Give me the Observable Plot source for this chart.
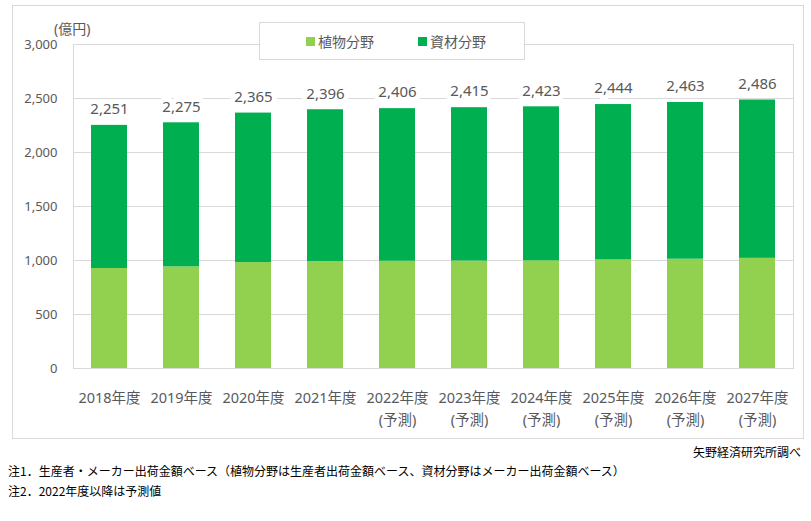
<!DOCTYPE html>
<html>
<head>
<meta charset="utf-8">
<script src="https://cdn.jsdelivr.net/npm/d3@7"></script>
<script src="https://cdn.jsdelivr.net/npm/@observablehq/plot@0.6"></script>
<style>
  html, body { margin: 0; padding: 0; background: #fff; }
  #wrap { position: relative; width: 811px; height: 521px; font-family: "Noto Sans", "Noto Sans CJK JP", sans-serif; overflow: hidden; }
  #chart { position: absolute; left: 0; top: 0; }
  #border { position: absolute; left: 12px; top: 5px; width: 790px; height: 432px; border: 1px solid #d9d9d9; pointer-events: none; }
  #unit { position: absolute; left: 54px; top: 18px; font-size: 14px; color: #595959; }
  #legend { position: absolute; left: 259px; top: 22px; width: 264px; height: 36px; border: 1px solid #d9d9d9; background: #fff; font-size: 14px; color: #595959; }
  .item { position: absolute; top: 8px; display: flex; align-items: center; }
  .sw { width: 9px; height: 9px; margin-right: 3px; }
  .note { position: absolute; font-size: 12px; color: #000; font-family: "Noto Sans CJK JP", sans-serif; white-space: nowrap; }
</style>
</head>
<body>
<div id="wrap">
  <div id="chart"></div>
  <div id="border"></div>
  <div id="unit">(億円)</div>
  <div id="legend"></div>
  <div class="note" id="src" style="right:10px; top:443px;">矢野経済研究所調べ</div>
  <div class="note" id="n1" style="left:8px; top:462px;">注1．生産者・メーカー出荷金額ベース（植物分野は生産者出荷金額ベース、資材分野はメーカー出荷金額ベース）</div>
  <div class="note" id="n2" style="left:8px; top:482px;">注2．2022年度以降は予測値</div>
</div>
<script>
// ---- data ----
const years = ["2018年度", "2019年度", "2020年度", "2021年度", "2022年度\n(予測)", "2023年度\n(予測)", "2024年度\n(予測)", "2025年度\n(予測)", "2026年度\n(予測)", "2027年度\n(予測)"];
const seriesNames = ["植物分野", "資材分野"];
const seriesColors = ["#92d050", "#00b050"];
const plantValues = [926, 941, 981, 991, 993, 995, 997, 1005, 1012, 1020];
const materialValues = [1325, 1334, 1384, 1405, 1413, 1420, 1426, 1439, 1451, 1466];
const totalValues = [2251, 2275, 2365, 2396, 2406, 2415, 2423, 2444, 2463, 2486];
const yTicks = [0, 500, 1000, 1500, 2000, 2500, 3000];

// ---- build tables ----
const rows = [];
years.forEach((y, i) => {
  rows.push({year: y, series: seriesNames[0], value: plantValues[i]});
  rows.push({year: y, series: seriesNames[1], value: materialValues[i]});
});
const totals = years.map((y, i) => ({year: y, total: totalValues[i]}));
const fmt = d3.format(",");

const chart = Plot.plot({
  width: 811,
  height: 440,
  marginLeft: 73,
  marginRight: 18,
  marginTop: 44,
  marginBottom: 72,
  style: {fontFamily: '"Noto Sans", "Noto Sans CJK JP", sans-serif', background: "transparent", color: "#595959"},
  x: {domain: years, paddingInner: 0.5, paddingOuter: 0.25, label: null},
  y: {domain: [0, 3000], label: null},
  color: {domain: seriesNames, range: seriesColors},
  marks: [
    Plot.gridY(yTicks, {stroke: "#d9d9d9", strokeOpacity: 1}),
    Plot.frame({stroke: "#d9d9d9"}),
    Plot.barY(rows, {x: "year", y: "value", fill: "series", order: seriesNames}),
    Plot.text(totals, {x: "year", y: "total", text: d => fmt(d.total), dy: -16, fontSize: 15, fill: "#595959", stroke: "white", strokeWidth: 10, paintOrder: "stroke"}),
    Plot.axisY(yTicks, {tickSize: 0, tickPadding: 16, tickFormat: fmt, fontSize: 13, fill: "#595959", label: null}),
    Plot.axisX({tickSize: 0, tickPadding: 19, fontSize: 14.5, lineHeight: 1.52, fill: "#595959", label: null})
  ]
});
document.getElementById("chart").appendChild(chart);

// legend
const legend = document.getElementById("legend");
const lefts = [46, 158];
seriesNames.forEach((n, i) => {
  const it = document.createElement("div");
  it.className = "item";
  it.style.left = lefts[i] + "px";
  const sw = document.createElement("span");
  sw.className = "sw";
  sw.style.background = seriesColors[i];
  const t = document.createElement("span");
  t.textContent = n;
  it.appendChild(sw);
  it.appendChild(t);
  legend.appendChild(it);
});
</script>
</body>
</html>
